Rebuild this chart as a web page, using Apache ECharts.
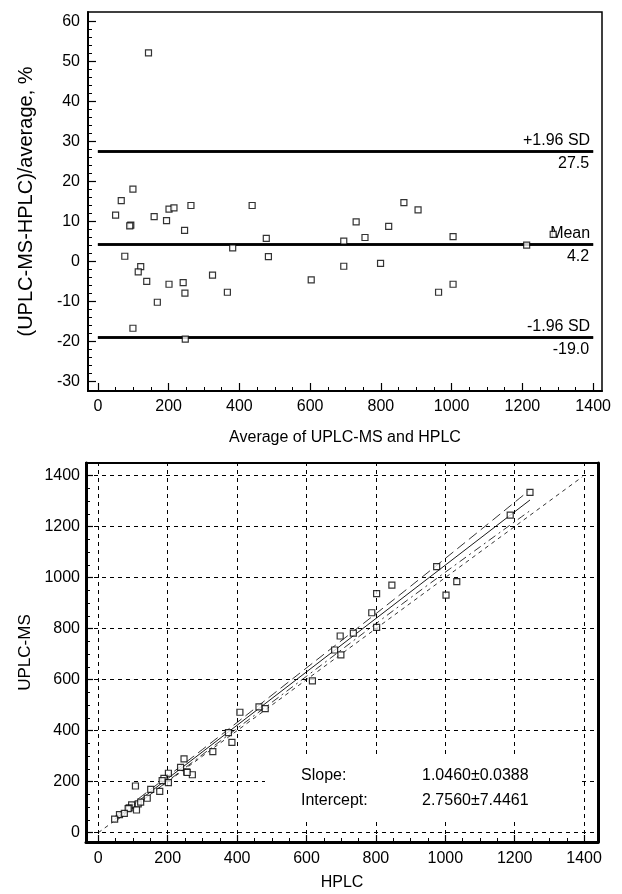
<!DOCTYPE html>
<html><head><meta charset="utf-8">
<script src="https://cdn.jsdelivr.net/npm/echarts@6/dist/echarts.min.js"></script>
<style>html,body{margin:0;padding:0;background:#fff}#c{width:622px;height:894px}</style>
</head><body><div id="c"></div>
<script>
// ---- Bland-Altman plot (top) ----
const baAverage = [99, 66, 50, 93, 90, 159, 194, 201, 215, 245, 263, 436, 476, 381, 482, 695, 695, 730, 755, 822, 865, 905, 799, 1004, 1212, 1287, 76, 121, 114, 138, 201, 241, 246, 324, 366, 168, 99, 247, 603, 963, 1004, 143];
const baDiffPct = [18.1, 15.2, 11.6, 9.1, 8.9, 11.2, 10.2, 13.1, 13.4, 7.8, 14.0, 14.0, 5.8, 3.4, 1.2, 5.1, -1.2, 9.9, 6.0, 8.8, 14.7, 12.9, -0.5, 6.2, 4.1, 6.8, 1.3, -1.3, -2.6, -5.0, -5.7, -5.3, -7.9, -3.4, -7.7, -10.2, -16.7, -19.4, -4.6, -7.7, -5.7, 52.2];
const baLevels = [27.5, 4.2, -19.0];
const baLevelNames = ['+1.96 SD', 'Mean', '-1.96 SD'];
const baLevelLabels = ['27.5', '4.2', '-19.0'];
const baLineRange = [0, 1400];
const baXTicks = [0, 200, 400, 600, 800, 1000, 1200, 1400];
const baYTicks = [-30, -20, -10, 0, 10, 20, 30, 40, 50, 60];

// ---- Regression plot (bottom) ----
const hplc = [1244, 1187, 975, 1033, 1002, 846, 802, 788, 802, 735, 697, 681, 699, 617, 408, 463, 481, 375, 385, 330, 247, 237, 255, 271, 202, 189, 184, 202, 151, 177, 107, 115, 122, 96, 110, 89, 86, 141, 61, 75, 47, 256];
const uplcms = [1334, 1245, 1043, 984, 931, 970, 937, 862, 805, 782, 771, 716, 697, 595, 472, 493, 486, 392, 354, 318, 289, 256, 238, 227, 233, 213, 204, 196, 170, 162, 183, 113, 120, 109, 89, 97, 94, 135, 71, 76, 53, 236];
const regLine = [[47, 52], [1244, 1304]];
const upperBand = [[47, 62], [300, 326], [600, 646], [900, 966], [1244, 1344]];
const lowerBand = [[47, 42], [300, 306], [600, 613], [900, 921], [1244, 1262]];
const identityLine = [[0, 0], [1395, 1395]];
const regXTicks = [0, 200, 400, 600, 800, 1000, 1200, 1400];
const regYTicks = [0, 200, 400, 600, 800, 1000, 1200, 1400];
const statNames = ['Slope:', 'Intercept:'];
const statValues = ['1.0460\u00b10.0388', '2.7560\u00b17.4461'];

function minorBetween(majors, step) {
  const out = [];
  for (let i = 0; i < majors.length - 1; i++) {
    for (let v = majors[i] + step; v < majors[i + 1] - 1e-9; v += step) out.push(+v.toFixed(6));
  }
  return out;
}

const FONT = '"Liberation Sans", Arial, Helvetica, sans-serif';
const black = '#000';

function majorAxis(o) {
  return Object.assign({
    type: 'value',
    axisLine: { show: true, onZero: false, lineStyle: { color: black, width: o.lw } },
    axisTick: { show: true, inside: true, length: o.tl, customValues: o.ticks, lineStyle: { color: black, width: 1.2 } },
    axisLabel: { show: true, customValues: o.ticks, color: black, fontSize: 16, fontFamily: FONT, margin: o.margin, formatter: v => String(v) },
    splitLine: { show: false },
    nameTextStyle: { color: black, fontSize: o.nfs || 16, fontFamily: FONT },
    nameLocation: 'middle'
  }, o.extra);
}
function minorAxis(o) {
  return Object.assign({
    type: 'value',
    axisLine: { show: false, onZero: false },
    axisTick: { show: true, inside: true, length: o.tl, customValues: o.ticks, lineStyle: { color: black, width: 1 } },
    axisLabel: { show: false },
    splitLine: { show: false }
  }, o.extra);
}

const topX = { min: -28, max: 1425 };
const topY = { min: -32.4, max: 62.4 };
const botX = { min: -35.5, max: 1440 };
const botY = { min: -36.5, max: 1449 };

const chart = echarts.init(document.getElementById('c'), null, { renderer: 'canvas', devicePixelRatio: 1 });

const levelMarks = [];
baLevels.forEach((v, i) => {
  levelMarks.push([
    { coord: [baLineRange[0], v], label: { show: true, position: 'insideEndTop', formatter: baLevelNames[i], distance: 3 } },
    { coord: [baLineRange[1], v] }
  ]);
  levelMarks.push([
    { coord: [baLineRange[0], v], label: { show: true, position: 'insideEndBottom', formatter: baLevelLabels[i], distance: 4 } },
    { coord: [baLineRange[1], v] }
  ]);
});

const gridMarks = regXTicks.map(v => ({ xAxis: v })).concat(regYTicks.map(v => ({ yAxis: v })));

const option = {
  animation: false,
  backgroundColor: '#fff',
  textStyle: { fontFamily: FONT },
  grid: [
    { left: 88, top: 12, width: 514, height: 379, show: true, borderColor: black, borderWidth: 1.5, backgroundColor: 'transparent' },
    { left: 86, top: 463, width: 512, height: 379, show: true, borderColor: black, borderWidth: 2, backgroundColor: 'transparent' }
  ],
  xAxis: [
    majorAxis({ lw: 2, tl: 8, ticks: baXTicks, margin: 8, extra: Object.assign({ gridIndex: 0, position: 'bottom', name: 'Average of UPLC-MS and HPLC', nameGap: 39 }, topX) }),
    minorAxis({ tl: 4, ticks: minorBetween(baXTicks, 50), extra: Object.assign({ gridIndex: 0, position: 'bottom' }, topX) }),
    majorAxis({ lw: 3, tl: 7, ticks: regXTicks, margin: 9, extra: Object.assign({ gridIndex: 1, position: 'bottom', name: 'HPLC', nameGap: 33 }, botX) }),
    minorAxis({ tl: 4, ticks: minorBetween(regXTicks, 50), extra: Object.assign({ gridIndex: 1, position: 'bottom' }, botX) })
  ],
  yAxis: [
    majorAxis({ lw: 2, tl: 8, ticks: baYTicks, margin: 8, nfs: 20, extra: Object.assign({ gridIndex: 0, position: 'left', name: '(UPLC-MS-HPLC)/average, %', nameGap: 52, nameRotate: 90 }, topY) }),
    minorAxis({ tl: 4, ticks: minorBetween(baYTicks, 2), extra: Object.assign({ gridIndex: 0, position: 'left' }, topY) }),
    majorAxis({ lw: 3, tl: 7, ticks: regYTicks, margin: 6, nfs: 17, extra: Object.assign({ gridIndex: 1, position: 'left', name: 'UPLC-MS', nameGap: 50, nameRotate: 90 }, botY) }),
    minorAxis({ tl: 4, ticks: minorBetween(regYTicks, 50), extra: Object.assign({ gridIndex: 1, position: 'left' }, botY) }),
    Object.assign({ type: 'value', gridIndex: 1, position: 'right', axisLine: { show: true, onZero: false, lineStyle: { color: black, width: 3 } }, axisTick: { show: false }, axisLabel: { show: false }, splitLine: { show: false } }, botY)
  ],
  series: [
    {
      type: 'line', xAxisIndex: 0, yAxisIndex: 0, data: [], z: 3,
      markLine: {
        silent: true, animation: false, symbol: ['none', 'none'],
        lineStyle: { color: black, width: 2.5, type: 'solid' },
        label: { color: black, fontSize: 16, fontFamily: FONT },
        emphasis: { disabled: true },
        data: levelMarks
      }
    },
    {
      type: 'scatter', xAxisIndex: 0, yAxisIndex: 0, z: 5,
      symbol: 'rect', symbolSize: 6,
      itemStyle: { color: '#fff', borderColor: black, borderWidth: 1.2 },
      data: baAverage.map((a, i) => [a, baDiffPct[i]])
    },
    {
      type: 'line', xAxisIndex: 2, yAxisIndex: 2, data: [], z: 1,
      markLine: {
        silent: true, animation: false, symbol: ['none', 'none'],
        lineStyle: { color: black, width: 1, type: [4, 4] },
        label: { show: false }, emphasis: { disabled: true },
        data: gridMarks
      }
    },
    { type: 'line', xAxisIndex: 2, yAxisIndex: 2, data: identityLine, symbol: 'none', z: 2,
      lineStyle: { color: black, width: 0.8, type: [4, 4] } },
    { type: 'line', xAxisIndex: 2, yAxisIndex: 2, data: upperBand, symbol: 'none', smooth: 0.4, z: 2,
      lineStyle: { color: black, width: 0.8, type: [10, 5] } },
    { type: 'line', xAxisIndex: 2, yAxisIndex: 2, data: lowerBand, symbol: 'none', smooth: 0.4, z: 2,
      lineStyle: { color: black, width: 0.8, type: [8, 4, 2, 4] } },
    { type: 'line', xAxisIndex: 2, yAxisIndex: 2, data: regLine, symbol: 'none', z: 2,
      lineStyle: { color: black, width: 0.9 } },
    {
      type: 'scatter', xAxisIndex: 2, yAxisIndex: 2, z: 5,
      symbol: 'rect', symbolSize: 6,
      itemStyle: { color: '#fff', borderColor: black, borderWidth: 1.2 },
      data: hplc.map((h, i) => [h, uplcms[i]])
    }
  ],
  graphic: [
    { type: 'rect', z: 100, shape: { x: 265, y: 757, width: 313, height: 64 }, style: { fill: '#fff' } },
    { type: 'text', z: 101, x: 301, y: 776, style: { text: statNames[0], fill: black, fontSize: 16, fontFamily: FONT, verticalAlign: 'middle' } },
    { type: 'text', z: 101, x: 422, y: 776, style: { text: statValues[0], fill: black, fontSize: 16, fontFamily: FONT, verticalAlign: 'middle' } },
    { type: 'text', z: 101, x: 301, y: 801, style: { text: statNames[1], fill: black, fontSize: 16, fontFamily: FONT, verticalAlign: 'middle' } },
    { type: 'text', z: 101, x: 422, y: 801, style: { text: statValues[1], fill: black, fontSize: 16, fontFamily: FONT, verticalAlign: 'middle' } }
  ]
};
chart.setOption(option);
</script>
</body></html>
